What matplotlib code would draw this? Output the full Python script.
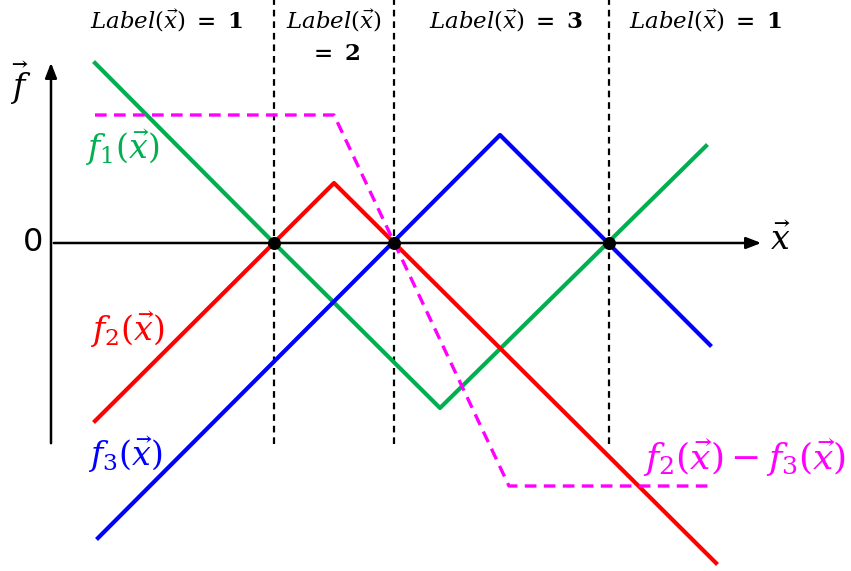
import numpy as np
import matplotlib.pyplot as plt

plt.rcParams['mathtext.fontset'] = 'dejavuserif'

# piecewise-linear scores, schematic units (x to the right, f up, 0 on the x axis)
f1_x = [95, 274, 440, 706]
f1_y = [180, 0, -165, 97]
f2_x = [95, 334, 716]
f2_y = [-178, 60, -320]
f3_x = [98, 500, 710]
f3_y = [-295, 108, -102]
diff_x = [95, 334, 509, 712]
diff_y = [128, 128, -243, -243]
boundaries = [274, 394, 609]
labels = ['1', '2', '3', '1']

fig = plt.figure(figsize=(8.51, 5.71), dpi=100)
ax = fig.add_axes([0, 0, 1, 1])
ax.set_xlim(0, 851)
ax.set_ylim(-328, 243)
ax.axis('off')

# axes with arrow heads
ax.annotate('', xy=(764, 0), xytext=(51, 0),
            arrowprops=dict(arrowstyle='-|>,head_length=0.9,head_width=0.35', lw=1.8, color='black'))
ax.annotate('', xy=(51, 183), xytext=(51, -203),
            arrowprops=dict(arrowstyle='-|>,head_length=0.9,head_width=0.35', lw=1.8, color='black'))

# region boundaries
for b in boundaries:
    ax.plot([b, b], [-201, 243], color='black', lw=1.6, ls=(0, (3, 2.2)), zorder=2)

ax.plot(f1_x, f1_y, color='#00B050', lw=3, zorder=3)
ax.plot(f2_x, f2_y, color='#FF0000', lw=3, zorder=3)
ax.plot(f3_x, f3_y, color='#0000FF', lw=3, zorder=3)
ax.plot(diff_x, diff_y, color='#FF00FF', lw=2.4, ls=(0, (3.5, 2.2)), zorder=3)

ax.scatter(boundaries, np.zeros(len(boundaries)), s=70, color='black', zorder=5)

# axis labels
ax.text(33, 0, '0', fontsize=23, ha='center', va='center', family='DejaVu Sans')
ax.text(21, 160, r'$\vec{f}$', fontsize=24, ha='center', va='center')
ax.text(781, 3, r'$\vec{x}$', fontsize=24, ha='center', va='center')

# region labels
lab_pos = [(167, 222), (334, 222), (506, 222), (706, 222)]
for (px, py), lab in zip(lab_pos, labels):
    if lab == '2':
        ax.text(px, py, r'$Label(\vec{x})$', fontsize=16.5, ha='center', va='center')
        ax.text(px, py - 33, r'$\mathbf{=}\ \mathbf{2}$', fontsize=16.5, ha='center', va='center')
    else:
        ax.text(px, py, r'$Label(\vec{x})\ \mathbf{=}\ \mathbf{%s}$' % lab,
                fontsize=16.5, ha='center', va='center')

# curve names
ax.text(122, 95, r'$f_1(\vec{x})$', fontsize=24, color='#00B050', ha='center', va='center')
ax.text(127, -87, r'$f_2(\vec{x})$', fontsize=24, color='#FF0000', ha='center', va='center')
ax.text(125, -212, r'$f_3(\vec{x})$', fontsize=24, color='#0000FF', ha='center', va='center')
ax.text(745, -215, r'$f_2(\vec{x})-f_3(\vec{x})$', fontsize=26, color='#FF00FF',
        ha='center', va='center')

fig.savefig('out.png', dpi=100)
